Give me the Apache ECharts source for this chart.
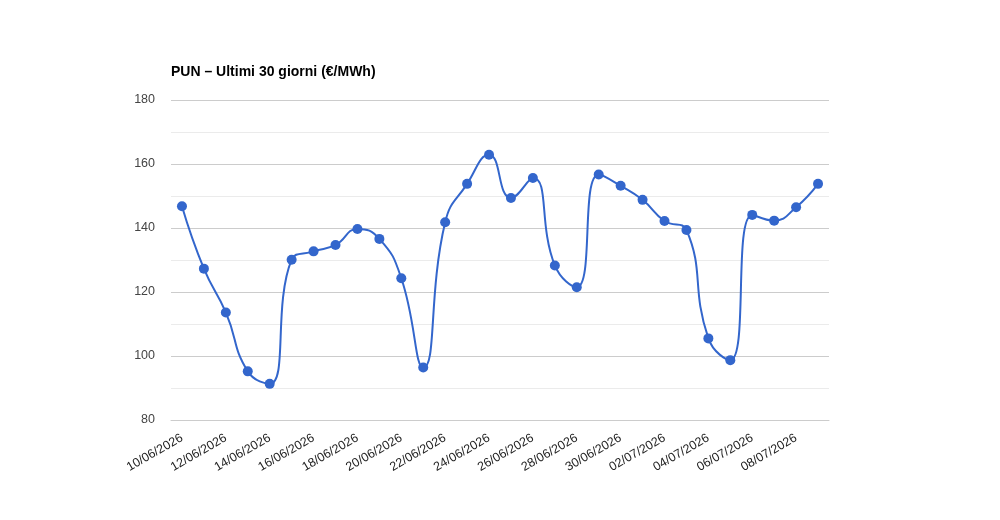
<!DOCTYPE html>
<html>
<head>
<meta charset="utf-8">
<script src="https://cdn.jsdelivr.net/npm/echarts@6/dist/echarts.min.js"></script>
<style>html,body{margin:0;padding:0;background:#fff;}#c{width:1000px;height:520px;}</style>
</head>
<body>
<div id="c"></div>
<script>
const titleText = 'PUN – Ultimi 30 giorni (€/MWh)';
const dates = ['10/06/2026','11/06/2026','12/06/2026','13/06/2026','14/06/2026','15/06/2026','16/06/2026','17/06/2026','18/06/2026','19/06/2026','20/06/2026','21/06/2026','22/06/2026','23/06/2026','24/06/2026','25/06/2026','26/06/2026','27/06/2026','28/06/2026','29/06/2026','30/06/2026','01/07/2026','02/07/2026','03/07/2026','04/07/2026','05/07/2026','06/07/2026','07/07/2026','08/07/2026','09/07/2026'];
const pun = [146.8,127.3,113.6,95.2,91.3,130.1,132.7,134.7,139.7,136.6,124.3,96.4,141.8,153.8,162.9,149.4,155.6,128.3,121.5,156.7,153.2,148.8,142.2,139.4,105.5,98.7,144.1,142.3,146.5,153.8];
const yTicks = {min: 80, max: 180, interval: 20};

const chart = echarts.init(document.getElementById('c'), null, {renderer: 'canvas'});
chart.setOption({
  backgroundColor: '#fff',
  animation: false,
  title: {
    text: titleText, left: 171, top: 65, padding: 0,
    textStyle: {fontFamily: 'Liberation Sans, Arial, sans-serif', fontSize: 14, fontWeight: 'bold', color: '#000'}
  },
  grid: {left: 171, right: 171, top: 100, bottom: 100, containLabel: false},
  xAxis: {
    type: 'category', data: dates, boundaryGap: true,
    axisLine: {show: true, lineStyle: {color: '#ccc'}},
    axisTick: {show: false},
    axisLabel: {interval: 1, rotate: 30, margin: 17, color: '#222', fontSize: 12.5, fontFamily: 'Liberation Sans, Arial, sans-serif'}
  },
  yAxis: {
    type: 'value', min: yTicks.min, max: yTicks.max, interval: yTicks.interval,
    axisLine: {show: false}, axisTick: {show: false},
    axisLabel: {color: '#444', fontSize: 12.5, margin: 16, fontFamily: 'Liberation Sans, Arial, sans-serif'},
    splitLine: {lineStyle: {color: '#ccc', width: 1}},
    minorTick: {show: false, splitNumber: 2},
    minorSplitLine: {show: true, lineStyle: {color: '#ebebeb', width: 1}}
  },
  series: [{
    type: 'line', data: pun, smooth: 0.5,
    symbol: 'circle', symbolSize: 10, showAllSymbol: true,
    lineStyle: {color: '#3366cc', width: 2},
    itemStyle: {color: '#3366cc'}
  }]
});
</script>
</body>
</html>
